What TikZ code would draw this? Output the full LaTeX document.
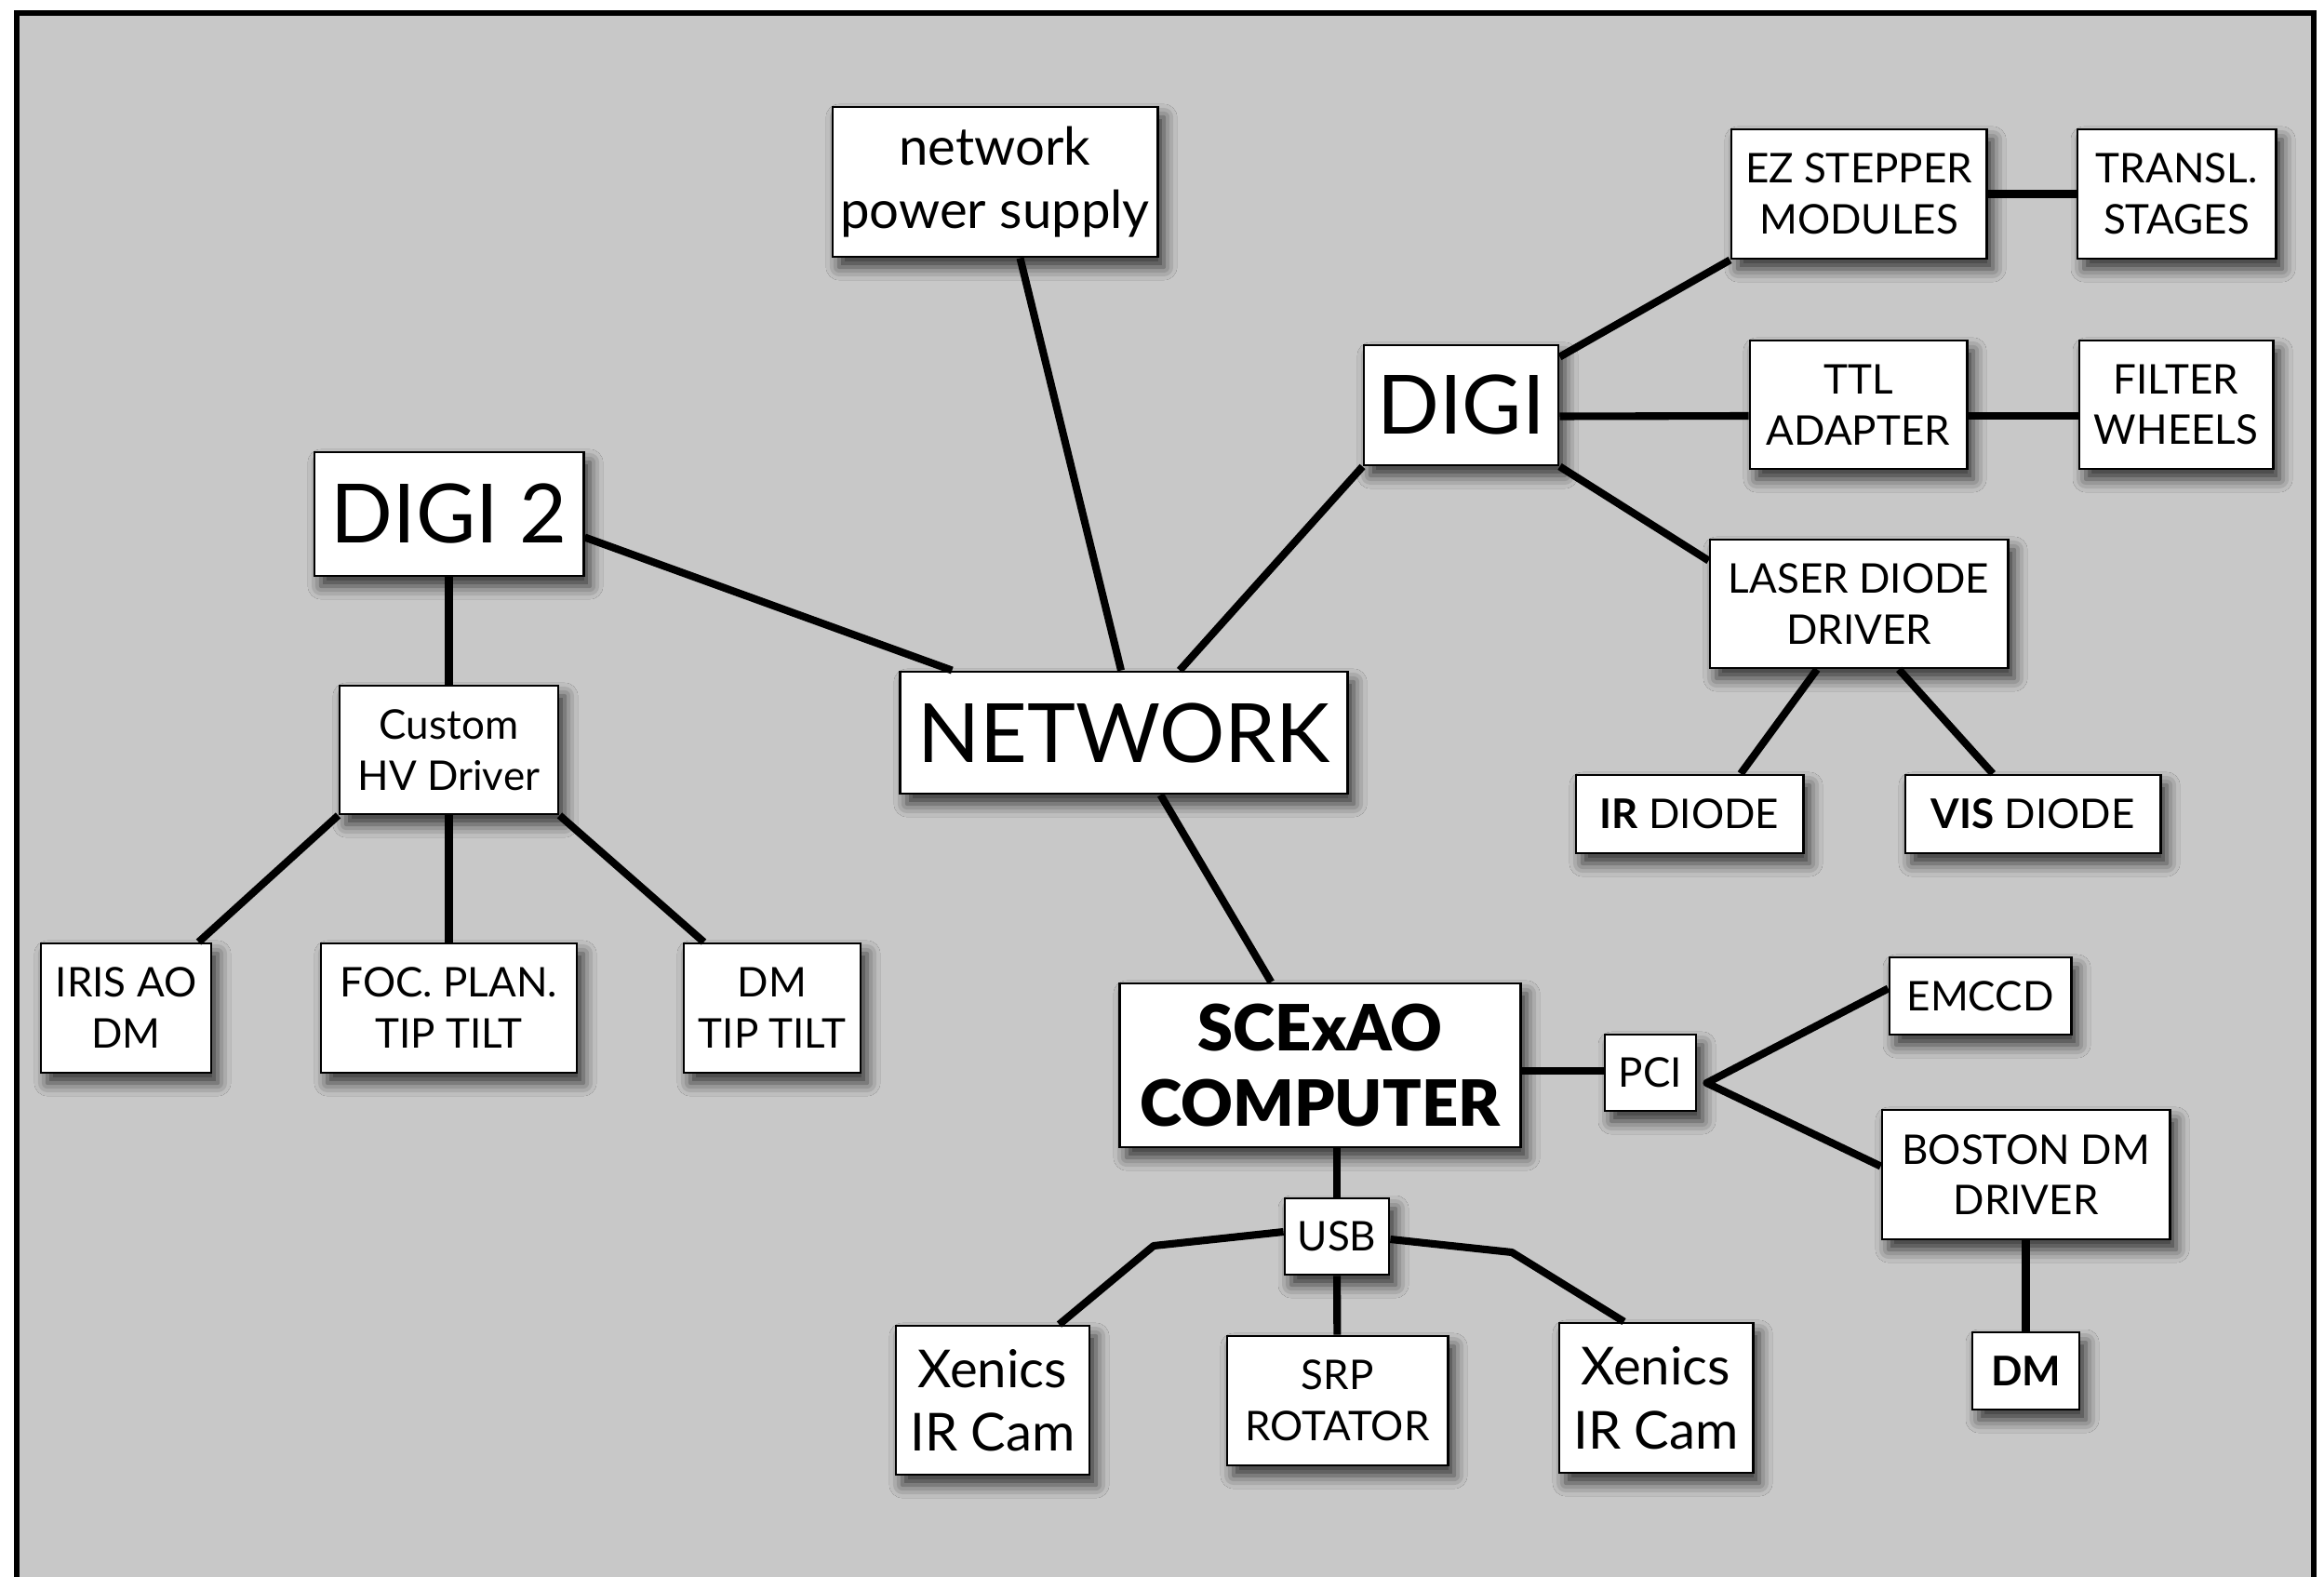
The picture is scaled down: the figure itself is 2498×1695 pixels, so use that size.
\documentclass[tikz,border=0pt]{standalone}
\usepackage{fontspec}
\setmainfont{Lato}
\newfontfamily\heavyfont{Lato Black}
\usetikzlibrary{calc,shadows.blur}
\definecolor{panel}{RGB}{200,200,200}
\tikzset{
  box/.style={draw=black, line width=0.8pt, fill=white, align=center, inner sep=0pt,
    blur shadow={shadow xshift=0.7mm, shadow yshift=-1.1mm, shadow blur radius=1.4mm, shadow opacity=75}},
  wire/.style={line width=2.3pt, line join=round},
  bigtxt/.style={font=\fontsize{25}{30}\selectfont},
  midtxt/.style={font=\fontsize{16}{19.5}\selectfont},
  smltxt/.style={font=\fontsize{12.5}{15.6}\selectfont},
}
\begin{document}
\begin{tikzpicture}[x=0.01cm,y=-0.01cm]
\useasboundingbox (0,0) rectangle (2498,1695);
\fill[white] (0,0) rectangle (2498,1695);
\draw[line width=1.5pt, fill=panel] (18,14) rectangle (2487,1760);

% nodes
\node[box, midtxt, minimum width=3.49cm, minimum height=1.61cm] (nps) at (1069.5,195.5) {network\\power supply};
\node[box, bigtxt, minimum width=2.89cm, minimum height=1.33cm] (digi2) at (482.5,552.5) {DIGI 2};
\node[box, bigtxt, minimum width=4.80cm, minimum height=1.31cm] (net) at (1208,787.5) {NETWORK};
\node[box, bigtxt, minimum width=2.09cm, minimum height=1.29cm] (digi) at (1570.5,435.5) {DIGI};
\node[box, smltxt, minimum width=2.74cm, minimum height=1.39cm] (ez) at (1998,208.5) {EZ STEPPER\\MODULES};
\node[box, smltxt, minimum width=2.13cm, minimum height=1.39cm] (transl) at (2339.5,208.5) {TRANSL.\\STAGES};
\node[box, smltxt, minimum width=2.33cm, minimum height=1.38cm] (ttl) at (1997.5,435) {TTL\\ADAPTER};
\node[box, smltxt, minimum width=2.08cm, minimum height=1.38cm] (filter) at (2339,435) {FILTER\\WHEELS};
\node[box, smltxt, minimum width=3.20cm, minimum height=1.38cm] (laser) at (1998,649) {LASER DIODE\\DRIVER};
\node[box, smltxt, minimum width=2.44cm, minimum height=0.84cm] (ir) at (1816,875) {\textbf{IR} DIODE};
\node[box, smltxt, minimum width=2.74cm, minimum height=0.84cm] (vis) at (2185,875) {\textbf{VIS} DIODE};
\node[box, smltxt, minimum width=2.35cm, minimum height=1.38cm] (hv) at (482.5,806) {Custom\\HV Driver};
\node[box, smltxt, minimum width=1.83cm, minimum height=1.39cm] (iris) at (135.5,1083.5) {IRIS AO\\DM};
\node[box, smltxt, minimum width=2.75cm, minimum height=1.39cm] (foc) at (482.5,1083.5) {FOC. PLAN.\\TIP TILT};
\node[box, smltxt, minimum width=1.90cm, minimum height=1.39cm] (dmtt) at (830,1083.5) {DM\\TIP TILT};
\node[box, font=\fontsize{19.5}{23}\heavyfont, minimum width=4.30cm, minimum height=1.76cm] (scexao) at (1419,1145) {SCExAO\\COMPUTER};
\node[box, smltxt, minimum width=0.98cm, minimum height=0.82cm] (pci) at (1774,1153) {PCI};
\node[box, smltxt, minimum width=1.95cm, minimum height=0.83cm] (emccd) at (2128.5,1070.5) {EMCCD};
\node[box, smltxt, minimum width=3.09cm, minimum height=1.39cm] (boston) at (2177.5,1262.5) {BOSTON DM\\DRIVER};
\node[box, font=\fontsize{12.5}{15.6}\selectfont\bfseries, minimum width=1.15cm, minimum height=0.83cm] (dm) at (2177.5,1473.5) {DM};
\node[box, smltxt, minimum width=1.12cm, minimum height=0.82cm] (usb) at (1437,1329) {USB};
\node[box, midtxt, minimum width=2.08cm, minimum height=1.60cm] (xen1) at (1067,1505) {Xenics\\IR Cam};
\node[box, smltxt, minimum width=2.37cm, minimum height=1.39cm] (srp) at (1437.5,1505.5) {SRP\\ROTATOR};
\node[box, midtxt, minimum width=2.08cm, minimum height=1.61cm] (xen2) at (1780,1502.5) {Xenics\\IR Cam};

% junction / bend points
\coordinate (pcij) at ($(pci.east)+(10,11)$);
\coordinate (bendl) at (1240,1339);
\coordinate (bendr) at (1625,1346);

% connectors (ending on the node borders)
\draw[wire] ($(nps.south)+(27,0)$) -- ($(net.north)+(-3,0)$);
\draw[wire] ($(digi2.east)+(0,25)$) -- (net);
\draw[wire] (net) -- (digi.south west);
\draw[wire] (net) -- (scexao);
\draw[wire] (digi2) -- (hv);
\draw[wire] (hv.south west) -- ($(iris.north east)+(-15,0)$);
\draw[wire] (hv) -- (foc);
\draw[wire] (hv.south east) -- ($(dmtt.north west)+(23,0)$);
\draw[wire] ($(digi.north east)+(0,14)$) -- (ez.south west);
\draw[wire] (ez) -- (transl);
\draw[wire] ($(digi.east)+(0,12)$) -- ($(ttl.west)+(0,12)$);
\draw[wire] ($(ttl.east)+(0,12)$) -- ($(filter.west)+(0,12)$);
\draw[wire] (digi.south east) -- ($(laser.north west)+(0,24)$);
\draw[wire] ($(laser.south)+(-45,0)$) -- ($(ir.north)+(55,0)$);
\draw[wire] ($(laser.south)+(43,0)$) -- ($(vis.north)+(-43,0)$);
\draw[wire] ($(scexao.east)+(0,6)$) -- ($(pci.west)+(0,-2)$);
\draw[wire] ($(emccd.west)+(0,-8)$) -- (pcij) -- ($(boston.west)+(0,-9)$);
\draw[wire] (boston) -- (dm);
\draw[wire] (usb.north) -- (usb.north |- scexao.south);
\draw[wire] (usb) -- (srp);
\draw[wire] ($(usb.west)+(0,-5)$) -- (bendl) -- ($(xen1.north east)+(-34,0)$);
\draw[wire] ($(usb.east)+(0,3)$) -- (bendr) -- ($(xen2.north west)+(71,0)$);
\end{tikzpicture}
\end{document}
